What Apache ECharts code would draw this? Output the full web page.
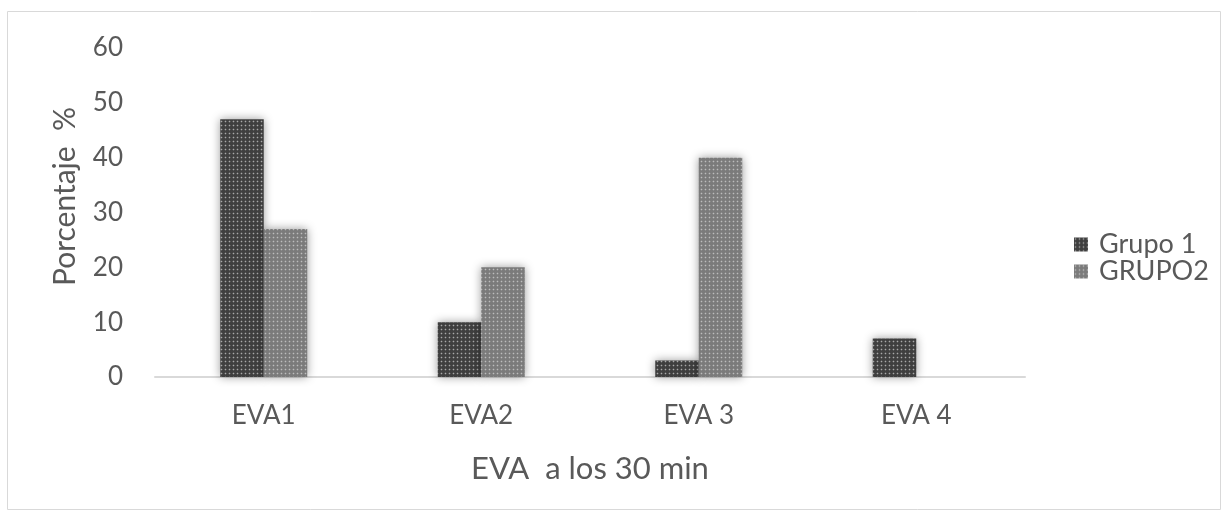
<!DOCTYPE html>
<html>
<head>
<meta charset="utf-8">
<script src="https://cdn.jsdelivr.net/npm/echarts@6/dist/echarts.min.js"></script>
<style>
  html, body { margin: 0; padding: 0; background: #fff; }
  #chart { width: 1225px; height: 512px; }
</style>
</head>
<body>
<div id="chart"></div>
<script>
// Pain scale (EVA) 30 minutes after, per group
const categories = ['EVA1', 'EVA2', 'EVA 3', 'EVA 4'];
const grupo1 = [47, 10, 3, 7];
const grupo2 = [27, 20, 40, 0];
const seriesNames = ['Grupo 1', 'GRUPO2'];
const yTicks = { min: 0, max: 60, interval: 10 };

const FONT = 'Lato, "Open Sans", sans-serif';
const TEXT = '#595959';

// Dotted fill: base colour with a soft light dot on a 4px grid
function dotPattern(base, halo, dot) {
  const c = document.createElement('canvas');
  c.width = 4; c.height = 4;
  const g = c.getContext('2d');
  g.fillStyle = base;
  g.fillRect(0, 0, 4, 4);
  g.fillStyle = halo;
  g.fillRect(0, 1, 3, 1);
  g.fillRect(1, 0, 1, 3);
  g.fillStyle = dot;
  g.fillRect(1, 1, 1, 1);
  return { image: c, repeat: 'repeat' };
}

const fill1 = dotPattern('#3f3f3f', '#5a5a5a', '#a8a8a8');
const fill2 = dotPattern('#7b7b7b', '#8c8c8c', '#bcbcbc');

const chart = echarts.init(document.getElementById('chart'));
chart.setOption({
  animation: false,
  graphic: [{
    type: 'rect',
    shape: { x: 7.5, y: 11.5, width: 1213, height: 498 },
    style: { fill: 'none', stroke: '#d9d9d9', lineWidth: 1 },
    silent: true
  }],
  grid: { left: 155, right: 200, top: 48, bottom: 135, containLabel: false },
  legend: {
    orient: 'vertical',
    left: 1069,
    top: 226,
    itemWidth: 14,
    itemHeight: 14,
    itemGap: 0,
    icon: 'rect',
    textStyle: { fontFamily: FONT, fontSize: 27, color: TEXT, lineHeight: 24, padding: [0, 0, 0, 6] },
    data: [
      { name: seriesNames[0], itemStyle: { color: fill1 } },
      { name: seriesNames[1], itemStyle: { color: fill2 } }
    ]
  },
  xAxis: {
    type: 'category',
    data: categories,
    name: 'EVA  a los 30 min',
    nameLocation: 'middle',
    nameGap: 76,
    nameTextStyle: { fontFamily: FONT, fontSize: 31, color: TEXT },
    axisLine: { lineStyle: { color: '#d9d9d9', width: 2 } },
    axisTick: { show: false },
    axisLabel: { fontFamily: FONT, fontSize: 26, color: TEXT, margin: 26 }
  },
  yAxis: {
    type: 'value',
    min: yTicks.min,
    max: yTicks.max,
    interval: yTicks.interval,
    name: 'Porcentaje  %',
    nameLocation: 'middle',
    nameGap: 75,
    nameRotate: 90,
    nameTextStyle: { fontFamily: FONT, fontSize: 30, color: TEXT, padding: [0, 0, 0, 32] },
    axisLine: { show: false },
    axisTick: { show: false },
    splitLine: { show: false },
    axisLabel: { fontFamily: FONT, fontSize: 26, color: TEXT, margin: 32 }
  },
  series: [
    {
      name: seriesNames[0],
      type: 'bar',
      data: grupo1,
      barGap: '0%',
      barCategoryGap: '60%',
      itemStyle: {
        color: fill1,
        shadowBlur: 10,
        shadowColor: 'rgba(0,0,0,0.4)'
      }
    },
    {
      name: seriesNames[1],
      type: 'bar',
      data: grupo2,
      barGap: '0%',
      barCategoryGap: '60%',
      itemStyle: {
        color: fill2,
        shadowBlur: 10,
        shadowColor: 'rgba(0,0,0,0.4)'
      }
    }
  ]
});
</script>
</body>
</html>
